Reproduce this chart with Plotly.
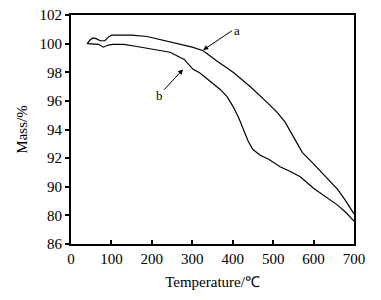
import plotly.graph_objects as go

# Curve a (upper)
temp_a = [40, 47, 54, 62, 72, 84, 92, 101, 120, 150, 188, 220, 260, 300, 327, 360, 401, 443, 485, 510, 530, 550, 572, 600, 634, 660, 680, 700]
mass_a = [100.0, 100.25, 100.4, 100.35, 100.2, 100.2, 100.45, 100.6, 100.6, 100.6, 100.5, 100.3, 100.0, 99.75, 99.5, 98.8, 98.0, 97.0, 95.9, 95.2, 94.5, 93.5, 92.4, 91.6, 90.6, 89.8, 89.0, 88.1]

# Curve b (lower)
temp_b = [40, 55, 68, 80, 92, 104, 130, 163, 200, 245, 280, 302, 319, 344, 369, 386, 401, 415, 426, 438, 450, 468, 490, 517, 540, 567, 600, 630, 660, 680, 700]
mass_b = [100.0, 100.0, 99.95, 99.75, 99.9, 99.95, 99.95, 99.8, 99.6, 99.4, 98.9, 98.2, 97.95, 97.4, 96.8, 96.3, 95.6, 94.8, 94.0, 93.2, 92.6, 92.2, 91.9, 91.4, 91.1, 90.7, 89.9, 89.3, 88.7, 88.2, 87.6]

y_ticks = [86, 88, 90, 92, 94, 96, 98, 100, 102]
y_tick_text = ["86", "80", "90", "92", "94", "96", "98", "100", "102"]
x_ticks = [0, 100, 200, 300, 400, 500, 600, 700]

font_family = "Liberation Serif, Times New Roman, serif"

fig = go.Figure()
fig.add_trace(go.Scatter(x=temp_a, y=mass_a, mode="lines",
                         line=dict(color="black", width=1.2), showlegend=False))
fig.add_trace(go.Scatter(x=temp_b, y=mass_b, mode="lines",
                         line=dict(color="black", width=1.2), showlegend=False))

fig.add_annotation(x=327, y=99.55, ax=398, ay=100.9, xref="x", yref="y",
                   axref="x", ayref="y", text="a", showarrow=True,
                   arrowhead=2, arrowsize=1, arrowwidth=1, arrowcolor="black",
                   xanchor="left", font=dict(family=font_family, size=13, color="black"))
fig.add_annotation(x=277, y=98.2, ax=218, ay=96.4, xref="x", yref="y",
                   axref="x", ayref="y", text="b", showarrow=True,
                   arrowhead=2, arrowsize=1, arrowwidth=1, arrowcolor="black",
                   yanchor="middle", font=dict(family=font_family, size=13, color="black"))

fig.update_layout(
    width=381, height=300,
    margin=dict(l=71, r=27, t=15, b=56),
    paper_bgcolor="white", plot_bgcolor="white",
    font=dict(family=font_family, size=14, color="black"),
    xaxis=dict(range=[0, 700], tickvals=x_ticks, ticks="inside", ticklen=4,
               tickwidth=1.5, tickcolor="black", showline=True, linewidth=2,
               linecolor="black", mirror=True, showgrid=False, zeroline=False,
               title=dict(text="Temperature/℃", font=dict(size=15), standoff=10),
               tickfont=dict(size=15), automargin=False),
    yaxis=dict(range=[86, 102], tickvals=y_ticks, ticktext=y_tick_text,
               ticks="outside", ticklen=4, tickwidth=1.5, tickcolor="black",
               showline=True, linewidth=2, linecolor="black", mirror=True,
               showgrid=False, zeroline=False,
               title=dict(text="Mass/%", font=dict(size=15), standoff=8),
               tickfont=dict(size=15), automargin=False),
)

fig.write_html("out.html", config={"displayModeBar": False},
               post_script="document.body.style.margin='0';document.body.style.padding='0';")
